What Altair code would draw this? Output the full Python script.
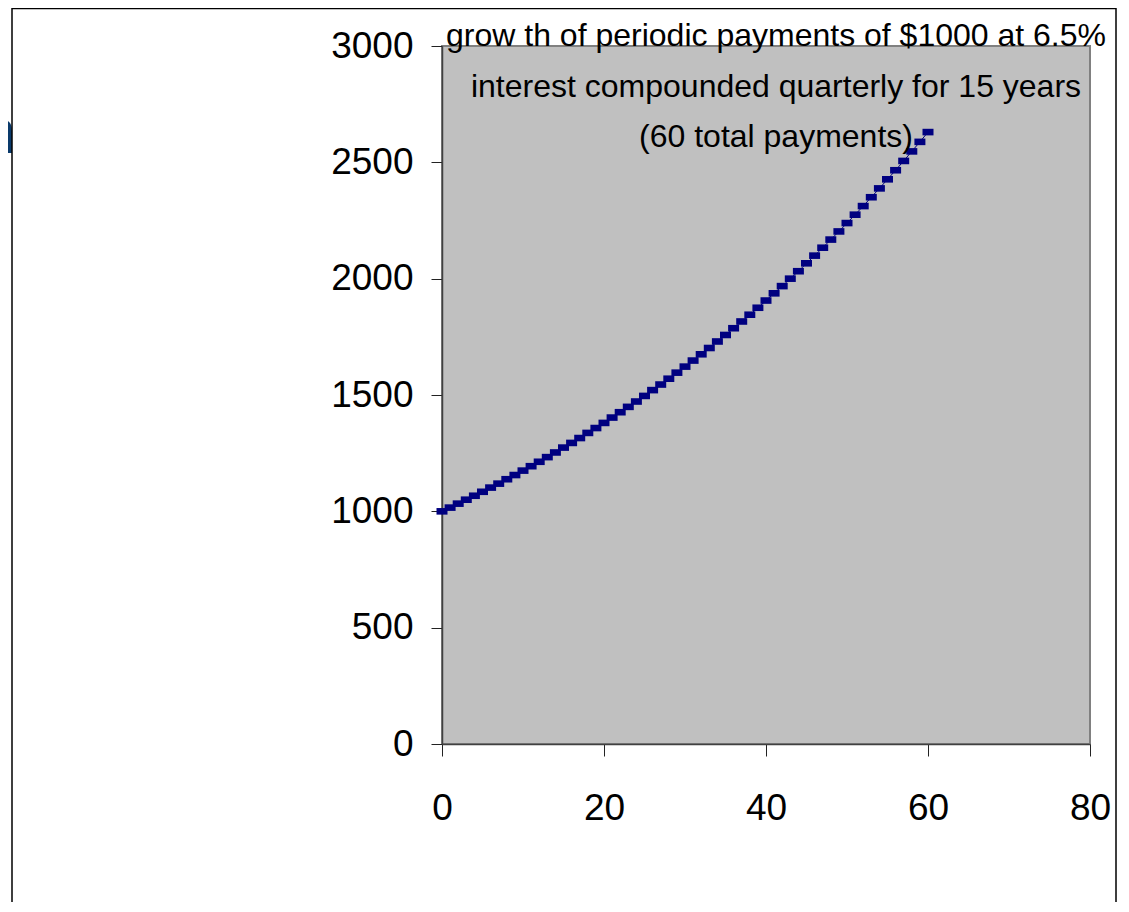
import altair as alt
import pandas as pd

# payment number (quarter) and accumulated value
payment_number = list(range(0, 61))
value = [1000, 1016, 1033, 1050, 1067, 1084, 1102, 1119, 1138, 1156,
         1175, 1194, 1213, 1233, 1253, 1274, 1294, 1315, 1337, 1358,
         1380, 1403, 1426, 1449, 1472, 1496, 1521, 1545, 1570, 1596,
         1622, 1648, 1675, 1702, 1730, 1758, 1787, 1816, 1845, 1875,
         1906, 1937, 1968, 2000, 2032, 2066, 2099, 2133, 2168, 2203,
         2239, 2275, 2312, 2350, 2388, 2427, 2466, 2506, 2547, 2588,
         2630]

x_ticks = [0, 20, 40, 60, 80]
y_ticks = [0, 500, 1000, 1500, 2000, 2500, 3000]

title_lines = [
    "grow th of periodic payments of $1000 at 6.5%",
    "interest compounded quarterly for 15 years",
    "(60 total payments)",
]

FONT = "Liberation Sans, Arial, sans-serif"
NAVY = "#000080"

df = pd.DataFrame({"n": payment_number, "v": value})

x_enc = alt.X(
    "n:Q",
    scale=alt.Scale(domain=[0, 80], nice=False, zero=False),
    axis=alt.Axis(values=x_ticks, format="d", title=None, tickSize=12,
                  labelPadding=34, labelFont=FONT, labelFontSize=37,
                  labelColor="black", tickColor="#222222",
                  domainColor="#404040", domainWidth=1.5,
                  grid=False, labelFlush=False),
)
y_enc = alt.Y(
    "v:Q",
    scale=alt.Scale(domain=[0, 3000], nice=False),
    axis=alt.Axis(values=y_ticks, format="d", title=None, tickSize=11,
                  labelPadding=18, labelFont=FONT, labelFontSize=37,
                  labelColor="black", tickColor="#222222",
                  domainColor="#404040", domainWidth=1.5,
                  grid=False, labelFlush=False),
)

base = alt.Chart(df)

line = base.mark_line(color=NAVY, strokeWidth=1).encode(x=x_enc, y=y_enc)

points = base.mark_point(
    shape="M-1,-0.6L1,-0.6L1,0.6L-1,0.6Z",
    size=121, filled=True, color=NAVY, opacity=1,
).encode(x="n:Q", y="v:Q")

one = alt.Data(values=[{"k": 1}])

title = alt.Chart(one).mark_text(
    text=title_lines, font=FONT, fontSize=32, lineHeight=50.5,
    align="center", baseline="alphabetic", color="black",
).encode(x=alt.value(334), y=alt.value(0))

h_text = alt.Chart(one).mark_text(
    text="h", font=FONT, fontSize=63,
    align="right", baseline="alphabetic", color="#0A3A6B",
).encode(x=alt.value(-426), y=alt.value(107))

frame = alt.Chart(one).mark_rect(
    fillOpacity=0, stroke="black", strokeWidth=1.5,
).encode(x=alt.value(-430), x2=alt.value(674),
         y=alt.value(-37.5), y2=alt.value(900))

chart = alt.layer(line, points, title, h_text, frame).properties(
    width=648,
    height=698,
    autosize=alt.AutoSizeParams(type="none"),
    padding={"left": 434, "top": 38, "right": 30, "bottom": 158},
    background="white",
).configure_view(
    fill="#C0C0C0", stroke="#808080", strokeWidth=2,
)

chart.save("out.html", embed_options={"renderer": "svg", "actions": False})
